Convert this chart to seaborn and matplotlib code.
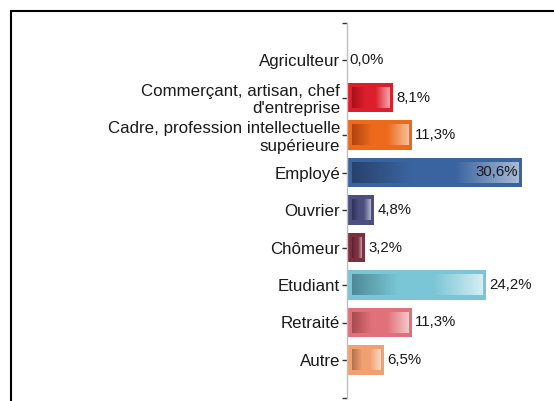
import numpy as np
import pandas as pd
import matplotlib
matplotlib.use("Agg")
import matplotlib.pyplot as plt
from matplotlib.colors import LinearSegmentedColormap
from matplotlib.patches import Rectangle
import seaborn as sns

categories = [
    "Agriculteur",
    "Commerçant, artisan, chef\nd'entreprise",
    "Cadre, profession intellectuelle\nsupérieure",
    "Employé",
    "Ouvrier",
    "Chômeur",
    "Etudiant",
    "Retraité",
    "Autre",
]
values = [0.0, 8.1, 11.3, 30.6, 4.8, 3.2, 24.2, 11.3, 6.5]
value_labels = ["0,0%", "8,1%", "11,3%", "30,6%", "4,8%", "3,2%", "24,2%", "11,3%", "6,5%"]

main_colors = ["#E8A040", "#DC1F2B", "#EC6A1C", "#3A64A0", "#4B4E7E",
               "#7B3040", "#7AC6D6", "#E2707A", "#F2A070"]
dark_colors = ["#B07020", "#A8101C", "#B0440E", "#27426C", "#2E3158",
               "#58202C", "#4E8A96", "#A84A52", "#B0704A"]
light_colors = ["#F8D8A0", "#F2A8AE", "#F8C09C", "#A8BAD6", "#B0B2CC",
                "#C8A0A8", "#D4EEF4", "#F4C8CC", "#FAD8C4"]

sns.set_style("white")
plt.rcParams["font.family"] = ["Liberation Sans", "DejaVu Sans"]

W, H = 554, 401
fig = plt.figure(figsize=(W / 100, H / 100), dpi=100)
ax = fig.add_axes([347 / W, 1 - 397.5 / H, (540 - 347) / W, 375 / H])

df = pd.DataFrame({"cat": categories, "val": values})
sns.barplot(data=df, x="val", y="cat", hue="cat", palette=main_colors,
            legend=False, orient="h", width=0.78, ax=ax, saturation=1,
            linewidth=0)

ax.set_xlim(0, 33.7)
ax.set_ylim(9, -1)
ax.set_yticks(range(-1, 10))
ax.set_yticklabels([""] + categories + [""])
ax.set_xticks([])
ax.set_xlabel("")
ax.set_ylabel("")
for s in ["top", "right", "bottom"]:
    ax.spines[s].set_visible(False)
ax.spines["left"].set_color("#BFBFBF")
ax.spines["left"].set_linewidth(1.0)
ax.tick_params(axis="y", left=True, length=3.5, width=1, color="#333333",
               pad=1.5, labelsize=12.2, labelcolor="#1A1A1A")
for t in ax.get_yticklabels():
    t.set_linespacing(1.2)

# gradient overlays inside each bar
inv = ax.transData.inverted()
for i, p in enumerate(ax.patches[:len(values)]):
    if p.get_width() <= 0:
        continue
    x0, y0 = p.get_x(), p.get_y()
    x1, y1 = x0 + p.get_width(), y0 + p.get_height()
    (dx0, dy0), (dx1, dy1) = ax.transData.transform([(x0, y0), (x1, y1)])
    lx, rx = min(dx0, dx1) + 5, max(dx0, dx1) - 3.5
    by, ty = min(dy0, dy1) + 4.5, max(dy0, dy1) - 4.5
    (l, b), (r, t) = inv.transform([(lx, by), (rx, ty)])
    cmap = LinearSegmentedColormap.from_list(
        f"g{i}", [(0, dark_colors[i]), (0.35, main_colors[i]),
                  (0.62, main_colors[i]), (1, light_colors[i])])
    ax.imshow(np.linspace(0, 1, 256)[None, :], cmap=cmap,
              extent=[l, r, b, t], aspect="auto", interpolation="bilinear",
              zorder=3)

ax.set_xlim(0, 33.7)
ax.set_ylim(9, -1)

for i, (v, lab) in enumerate(zip(values, value_labels)):
    if i == 3:
        ax.annotate(lab, (v, i), xytext=(-3, 0), textcoords="offset points",
                    ha="right", va="center", fontsize=10.8, color="#1A1A1A",
                    zorder=5)
    else:
        ax.annotate(lab, (v, i), xytext=(2.3 if v > 0 else 1.5, 0),
                    textcoords="offset points", ha="left", va="center",
                    fontsize=10.8, color="#1A1A1A", zorder=5)

fig.patches.append(Rectangle((10.5 / W, -0.2), 1.5, 1 - 10.5 / H + 0.2,
                             transform=fig.transFigure, fill=False,
                             ec="black", lw=1.5))

fig.savefig("out.png", dpi=100)
